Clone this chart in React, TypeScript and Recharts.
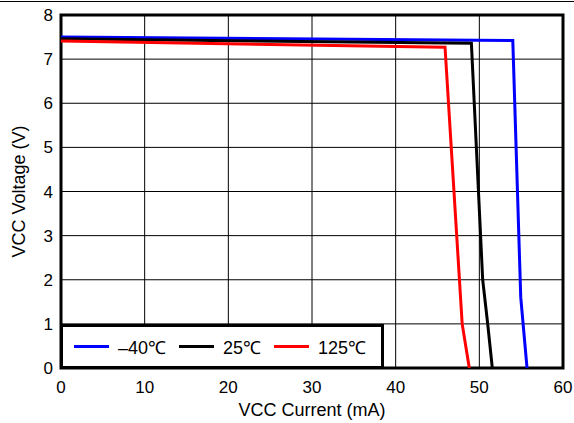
import React from 'react';
import { LineChart, Line, XAxis, YAxis, CartesianGrid, ReferenceArea } from 'recharts';

const seriesNames = ['\u201340\u2103', '25\u2103', '125\u2103'];
const seriesColors = ['#0000FF', '#000000', '#FF0000'];

const coldCurve = [
  { x: 0, y: 7.5 },
  { x: 54.0, y: 7.42 },
  { x: 54.95, y: 1.6 },
  { x: 55.7, y: 0 },
];
const roomCurve = [
  { x: 0, y: 7.46 },
  { x: 49.05, y: 7.36 },
  { x: 50.4, y: 2.0 },
  { x: 51.0, y: 1.0 },
  { x: 51.55, y: 0 },
];
const hotCurve = [
  { x: 0, y: 7.41 },
  { x: 45.9, y: 7.27 },
  { x: 47.95, y: 1.0 },
  { x: 48.8, y: 0 },
];

const seriesData = [coldCurve, roomCurve, hotCurve];

const xTicks = [0, 10, 20, 30, 40, 50, 60];
const yTicks = [0, 1, 2, 3, 4, 5, 6, 7, 8];
const xTitle = 'VCC Current (mA)';
const yTitle = 'VCC Voltage (V)';

const FONT = '"Liberation Sans", Arial, sans-serif';

const LegendBox = () => (
  <div
    style={{
      position: 'absolute',
      left: 60,
      top: 324,
      boxSizing: 'border-box',
      width: 324,
      height: 45,
      border: '3px solid #000',
      background: '#fff',
      display: 'flex',
      alignItems: 'center',
      paddingLeft: 11,
      fontFamily: FONT,
      fontSize: 18,
      color: '#000',
    }}
  >
    {seriesNames.map((name, i) => (
      <div key={i} style={{ display: 'flex', alignItems: 'center', marginRight: 13 }}>
        <div style={{ width: 35, height: 3, background: seriesColors[i], marginRight: 9 }} />
        <span>{name}</span>
      </div>
    ))}
  </div>
);

const YTitle = (props: any) => {
  const vb = props.viewBox || {};
  const cy = (vb.y || 0) + (vb.height || 0) / 2;
  return (
    <text
      x={19}
      y={cy}
      transform={`rotate(-90, 19, ${cy})`}
      textAnchor="middle"
      dominantBaseline="central"
      fontFamily={FONT}
      fontSize={18}
      fill="#000"
    >
      {yTitle}
    </text>
  );
};

export default function App() {
  return (
    <div style={{ position: 'absolute', left: 0, top: 0, width: 574, height: 423, background: '#fff' }}>
      <div style={{ position: 'absolute', left: 0, top: 1, width: 574, height: 1, background: '#000' }} />
      <LineChart
        width={574}
        height={423}
        margin={{ top: 15, right: 11, left: 0, bottom: 0 }}
      >
        <CartesianGrid stroke="#000" strokeWidth={1} />
        <XAxis
          type="number"
          dataKey="x"
          domain={[0, 60]}
          ticks={xTicks}
          height={55}
          axisLine={false}
          tickLine={false}
          tickSize={0}
          tickMargin={13}
          tick={{ fill: '#000', fontSize: 17, fontFamily: FONT }}
          interval={0}
          allowDataOverflow
          label={{ value: xTitle, position: 'insideBottom', offset: 7, fill: '#000', fontSize: 18, fontFamily: FONT }}
        />
        <YAxis
          type="number"
          dataKey="y"
          domain={[0, 8]}
          ticks={yTicks}
          width={61}
          axisLine={false}
          tickLine={false}
          tickSize={0}
          tickMargin={8}
          tick={{ fill: '#000', fontSize: 17, fontFamily: FONT }}
          interval={0}
          allowDataOverflow
          label={<YTitle />}
        />
        {seriesData.map((d, i) => (
          <Line
            key={i}
            data={d}
            dataKey="y"
            name={seriesNames[i]}
            stroke={seriesColors[i]}
            strokeWidth={3}
            dot={false}
            isAnimationActive={false}
          />
        ))}
        <ReferenceArea x1={0} x2={60} y1={0} y2={8} fill="none" stroke="#000" strokeWidth={3} ifOverflow="visible" />
      </LineChart>
      <LegendBox />
    </div>
  );
}
